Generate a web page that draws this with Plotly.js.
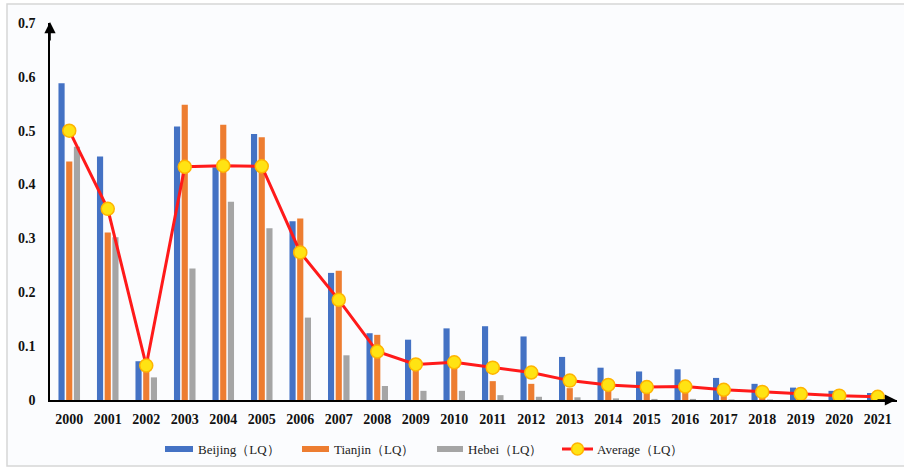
<!DOCTYPE html>
<html>
<head>
<meta charset="utf-8">
<script src="https://cdn.plot.ly/plotly-3.0.1.min.js"></script>
<style>html,body{margin:0;padding:0;background:#fff;}#chart{width:904px;height:475px;}</style>
</head>
<body>
<div id="chart"></div>
<script>
const years = ['2000','2001','2002','2003','2004','2005','2006','2007','2008','2009','2010','2011','2012','2013','2014','2015','2016','2017','2018','2019','2020','2021'];
const beijing = [0.588, 0.452, 0.072, 0.508, 0.432, 0.494, 0.332, 0.236, 0.124, 0.112, 0.133, 0.137, 0.118, 0.080, 0.060, 0.053, 0.057, 0.041, 0.030, 0.023, 0.017, 0.013];
const tianjin = [0.443, 0.311, 0.078, 0.548, 0.511, 0.488, 0.337, 0.240, 0.121, 0.068, 0.060, 0.035, 0.030, 0.022, 0.020, 0.015, 0.015, 0.012, 0.012, 0.008, 0.006, 0.004];
const hebei = [0.470, 0.302, 0.042, 0.244, 0.368, 0.319, 0.153, 0.083, 0.026, 0.017, 0.017, 0.009, 0.006, 0.005, 0.003, 0.002, 0.002, 0.001, 0.001, 0.001, 0.001, 0.001];
const average = [0.500, 0.355, 0.064, 0.433, 0.435, 0.434, 0.274, 0.186, 0.090, 0.066, 0.070, 0.060, 0.051, 0.036, 0.028, 0.024, 0.025, 0.019, 0.015, 0.011, 0.008, 0.006];
const yTicks = [0, 0.1, 0.2, 0.3, 0.4, 0.5, 0.6, 0.7];
const yTickText = ['0', '0.1', '0.2', '0.3', '0.4', '0.5', '0.6', '0.7'];
const names = ['Beijing（LQ）', 'Tianjin（LQ）', 'Hebei（LQ）', 'Average（LQ）'];

const C_BLUE = '#4472C4', C_ORANGE = '#ED7D31', C_GRAY = '#A5A5A5', C_RED = '#FF1A1A';
const SERIF = '"Liberation Serif", "Times New Roman", serif';

// pixel -> paper helpers (plot area: x 50..897, y 23..400)
const L = 50, R = 897, T = 23, B = 400;
const px = x => (x - L) / (R - L);
const py = y => (B - y) / (B - T);

const traces = [
  {type: 'bar', x: years, y: beijing, name: names[0], marker: {color: C_BLUE}, showlegend: false},
  {type: 'bar', x: years, y: tianjin, name: names[1], marker: {color: C_ORANGE}, showlegend: false},
  {type: 'bar', x: years, y: hebei, name: names[2], marker: {color: C_GRAY}, showlegend: false},
  {type: 'scatter', mode: 'lines+markers', x: years, y: average, name: names[3], showlegend: false,
   line: {color: C_RED, width: 3},
   marker: {size: 13, color: '#FFE313', line: {color: '#FFB400', width: 1.5}}}
];

const shapes = [
  // outer frame
  {type: 'rect', xref: 'paper', yref: 'paper', x0: px(7), x1: px(910), y0: py(466), y1: py(4),
   line: {color: '#d6d6d6', width: 1.5}, fillcolor: '#fbfcfe', layer: 'below'},
  // legend swatches
  {type: 'rect', xref: 'paper', yref: 'paper', x0: px(165), x1: px(193), y0: py(452), y1: py(446), line: {width: 0}, fillcolor: C_BLUE},
  {type: 'rect', xref: 'paper', yref: 'paper', x0: px(302), x1: px(329), y0: py(452), y1: py(446), line: {width: 0}, fillcolor: C_ORANGE},
  {type: 'rect', xref: 'paper', yref: 'paper', x0: px(437), x1: px(463), y0: py(452), y1: py(446), line: {width: 0}, fillcolor: C_GRAY},
  {type: 'line', xref: 'paper', yref: 'paper', x0: px(562), x1: px(593), y0: py(449), y1: py(449), line: {color: C_RED, width: 3}},
  {type: 'circle', xref: 'paper', yref: 'paper', x0: px(571.5), x1: px(583.5), y0: py(455), y1: py(443),
   line: {color: '#FFB400', width: 1.5}, fillcolor: '#FFE313'}
];

const legendFont = {family: SERIF, size: 13, color: '#222'};
const annotations = [
  {xref: 'paper', yref: 'paper', x: px(196), y: py(449), text: names[0], showarrow: false, xanchor: 'left', yanchor: 'middle', font: legendFont},
  {xref: 'paper', yref: 'paper', x: px(332), y: py(449), text: names[1], showarrow: false, xanchor: 'left', yanchor: 'middle', font: legendFont},
  {xref: 'paper', yref: 'paper', x: px(466), y: py(449), text: names[2], showarrow: false, xanchor: 'left', yanchor: 'middle', font: legendFont},
  {xref: 'paper', yref: 'paper', x: px(595), y: py(449), text: names[3], showarrow: false, xanchor: 'left', yanchor: 'middle', font: legendFont},
  // axis arrows
  {xref: 'paper', yref: 'paper', x: px(50), y: py(22), ax: 0, ay: 20, text: '', showarrow: true,
   arrowhead: 2, arrowsize: 1.4, arrowwidth: 1.6, arrowcolor: '#000'},
  {xref: 'paper', yref: 'paper', x: px(896), y: py(400), ax: -20, ay: 0, text: '', showarrow: true,
   arrowhead: 2, arrowsize: 1.4, arrowwidth: 1.6, arrowcolor: '#000'}
];

const layout = {
  width: 904, height: 475,
  margin: {l: L, r: 904 - R, t: T, b: 475 - B, pad: 0},
  paper_bgcolor: '#ffffff',
  plot_bgcolor: 'rgba(0,0,0,0)',
  barmode: 'group',
  bargap: 0.4,
  bargroupgap: 0.2,
  showlegend: false,
  font: {family: SERIF, color: '#111'},
  xaxis: {
    type: 'category', range: [-0.5, 21.5],
    showline: true, linecolor: '#000', linewidth: 1.6,
    showgrid: false, zeroline: false, ticks: '',
    ticklabelstandoff: 6,
    tickfont: {family: SERIF, size: 14, color: '#111', weight: 'bold'}
  },
  yaxis: {
    range: [0, 0.7],
    tickvals: yTicks, ticktext: yTickText,
    showline: true, linecolor: '#000', linewidth: 1.6,
    showgrid: false, zeroline: false, ticks: '',
    ticklabelstandoff: 10,
    tickfont: {family: SERIF, size: 14, color: '#111', weight: 'bold'}
  },
  shapes: shapes,
  annotations: annotations
};

Plotly.newPlot('chart', traces, layout, {displayModeBar: false, staticPlot: true});
</script>
</body>
</html>
